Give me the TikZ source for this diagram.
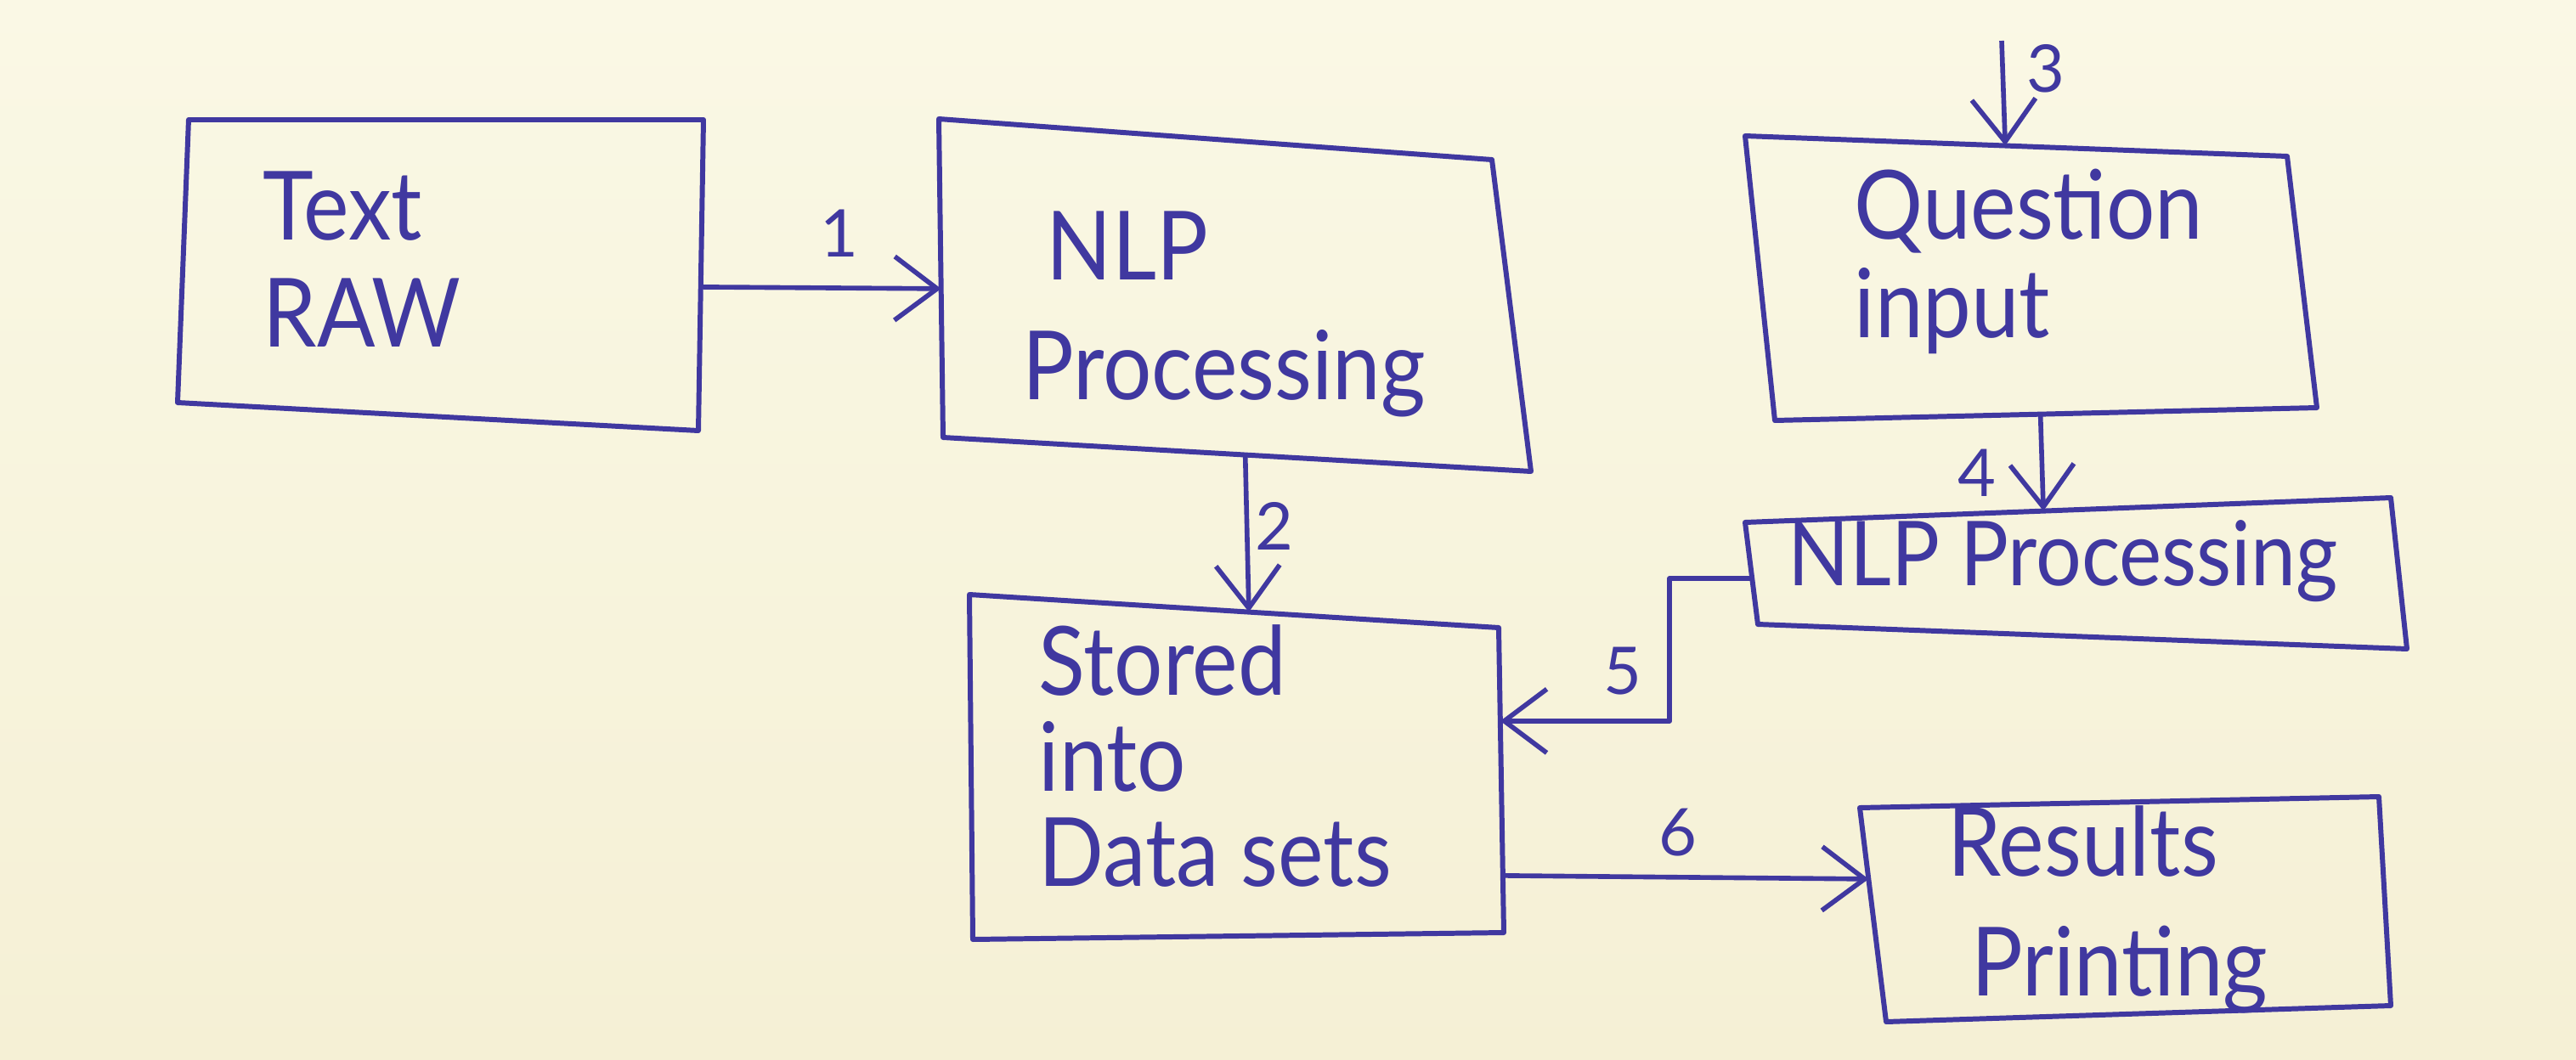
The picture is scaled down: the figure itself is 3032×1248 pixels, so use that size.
\documentclass[tikz,border=0pt]{standalone}
\usepackage{fontspec}
\setmainfont{Lato}
\usetikzlibrary{arrows.meta,calc}
\definecolor{papertop}{RGB}{250,248,229}
\definecolor{paperbot}{RGB}{245,240,213}
\definecolor{ink}{RGB}{64,56,160}
\newcommand{\hw}[2][0.9]{\scalebox{#1}[1]{#2}}
\tikzset{
  box/.style={draw=ink, line width=1.7pt, line join=round},
  lbl/.style={text=ink, font=\fontsize{32}{#1}\selectfont, align=left, inner sep=0pt, anchor=west},
  lbl/.default=36,
  num/.style={text=ink, font=\fontsize{22}{26}\selectfont, inner sep=0pt},
  conn/.style={draw=ink, line width=1.6pt, line join=round,
    -{Straight Barb[length=5mm,width=7.5mm]}},
}
\begin{document}
\begin{tikzpicture}[x=0.01cm,y=-0.01cm]
\shade[top color=papertop, bottom color=paperbot] (0,0) rectangle (3032,1248);
\useasboundingbox (0,0) rectangle (3032,1248);

% box corners
\coordinate (raw-nw) at (222,141);  \coordinate (raw-ne) at (828,141);
\coordinate (raw-se) at (822,507);  \coordinate (raw-sw) at (209,474);
\coordinate (nlp-nw) at (1105,140); \coordinate (nlp-ne) at (1756,188);
\coordinate (nlp-se) at (1802,555); \coordinate (nlp-sw) at (1110,515);
\coordinate (q-nw) at (2054,160);   \coordinate (q-ne) at (2692,184);
\coordinate (q-se) at (2727,480);   \coordinate (q-sw) at (2089,495);
\coordinate (np-nw) at (2054,615);  \coordinate (np-ne) at (2814,586);
\coordinate (np-se) at (2833,764);  \coordinate (np-sw) at (2069,735);
\coordinate (st-nw) at (1141,700);  \coordinate (st-ne) at (1764,739);
\coordinate (st-se) at (1770,1098); \coordinate (st-sw) at (1145,1106);
\coordinate (rs-nw) at (2189,951);  \coordinate (rs-ne) at (2800,938);
\coordinate (rs-se) at (2814,1184); \coordinate (rs-sw) at (2220,1203);

% boxes
\draw[box] (raw-nw) -- (raw-ne) -- (raw-se) -- (raw-sw) -- cycle;
\draw[box] (nlp-nw) -- (nlp-ne) -- (nlp-se) -- (nlp-sw) -- cycle;
\draw[box] (q-nw) -- (q-ne) -- (q-se) -- (q-sw) -- cycle;
\draw[box] (np-nw) -- (np-ne) -- (np-se) -- (np-sw) -- cycle;
\draw[box] (st-nw) -- (st-ne) -- (st-se) -- (st-sw) -- cycle;
\draw[box] (rs-nw) -- (rs-ne) -- (rs-se) -- (rs-sw) -- cycle;

% texts
\node[lbl=36] (raw) at (309,305) {\hw{Text}\\\hw{RAW}};
\node[lbl=40] (nlp) at (1203,370) {\hspace{8pt}\hw{NLP}\\\hw{Processing}};
\node[lbl=33] (q) at (2182,308) {\hw{Question}\\\hw{input}};
\node[lbl, font=\fontsize{30}{36}\selectfont] (np) at (2104,661) {\hw{NLP Processing}};
\node[lbl=32] (st) at (1222,890) {\hw{Stored}\\\hw{into}\\\hw{Data sets}};
\node[lbl=40] (rs) at (2292,1071) {\hw{Results}\\\hspace{8pt}\hw{Printing}};

% connectors
\coordinate (qin) at (2356,48);
\draw[conn] ($(raw-ne)!0.538!(raw-se)$) -- ($(nlp-nw)!0.533!(nlp-sw)$);
\draw[conn] ($(nlp-sw)!0.514!(nlp-se)$) -- ($(st-nw)!0.528!(st-ne)$);
\draw[conn] (qin) -- ($(q-nw)!0.48!(q-ne)$);
\draw[conn] ($(q-sw)!0.49!(q-se)$) -- ($(np-nw)!0.462!(np-ne)$);
\draw[conn] ($(np-nw)!0.55!(np-sw)$) -- ++(-97,0) |- ($(st-ne)!0.306!(st-se)$);
\draw[conn] ($(st-ne)!0.813!(st-se)$) -- ($(rs-nw)!0.333!(rs-sw)$);

% connector labels
\node[num] (n1) at (988,275) {1};
\node[num] (n2) at (1500,619) {2};
\node[num] (n3) at (2408,81) {3};
\node[num] (n4) at (2327,557) {4};
\node[num] (n5) at (1910,790) {5};
\node[num] (n6) at (1975,980) {6};
\end{tikzpicture}
\end{document}
